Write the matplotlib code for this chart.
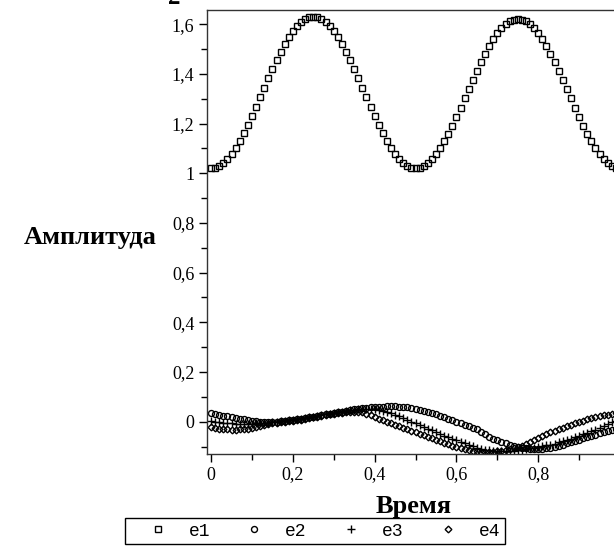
import numpy as np
import matplotlib
matplotlib.use("Agg")
import matplotlib.pyplot as plt
from matplotlib.ticker import MultipleLocator, FuncFormatter

# time grid (step 0.01)
time = np.round(np.arange(100) * 0.01, 2)

e1 = [1.020, 1.022, 1.030, 1.041, 1.058, 1.078, 1.103, 1.131, 1.162, 1.195,
      1.231, 1.268, 1.306, 1.344, 1.382, 1.419, 1.455, 1.488, 1.519, 1.547,
      1.572, 1.592, 1.609, 1.620, 1.628, 1.630,
      1.628, 1.620, 1.609, 1.592, 1.572, 1.547, 1.519, 1.488, 1.455, 1.419,
      1.382, 1.344, 1.306, 1.268, 1.231, 1.195, 1.162, 1.131, 1.103, 1.078,
      1.058, 1.041, 1.030, 1.022, 1.020,
      1.022, 1.029, 1.041, 1.057, 1.077, 1.101, 1.129, 1.159, 1.192, 1.227,
      1.264, 1.301, 1.339, 1.376, 1.413, 1.448, 1.481, 1.511, 1.539, 1.563,
      1.583, 1.599, 1.611, 1.618, 1.620,
      1.618, 1.611, 1.599, 1.583, 1.563, 1.539, 1.511, 1.481, 1.448, 1.413,
      1.376, 1.339, 1.301, 1.264, 1.227, 1.192, 1.159, 1.129, 1.101, 1.077,
      1.057, 1.041, 1.029, 1.022]

e2 = [0.036, 0.032, 0.028, 0.024, 0.021, 0.018, 0.015, 0.012, 0.009, 0.006,
      0.003, 0.001, -0.001,
      -0.002, -0.002, -0.001, 0.000, 0.002, 0.004, 0.006, 0.008, 0.010, 0.012,
      0.014, 0.017,
      0.020, 0.023, 0.026, 0.029, 0.032, 0.035, 0.038, 0.041, 0.044, 0.047,
      0.050, 0.052, 0.054, 0.056, 0.058, 0.059, 0.060, 0.061, 0.062, 0.062,
      0.062, 0.061, 0.060, 0.058, 0.056,
      0.053, 0.049, 0.045, 0.040, 0.035, 0.030, 0.024, 0.018, 0.012, 0.006,
      0.000, -0.006, -0.012, -0.019, -0.025, -0.031, -0.040, -0.050, -0.060, -0.068,
      -0.075, -0.081, -0.087, -0.092, -0.096,
      -0.100, -0.104, -0.107, -0.109, -0.110, -0.110, -0.109, -0.107, -0.104, -0.100,
      -0.096, -0.092, -0.087, -0.082, -0.077, -0.072, -0.067, -0.062, -0.057, -0.052,
      -0.047, -0.043, -0.039, -0.035, -0.031]

e3 = [0.002, 0.000, -0.002, -0.004, -0.006, -0.007, -0.008, -0.009, -0.009, -0.009,
      -0.008, -0.007, -0.006,
      -0.005, -0.004, -0.003, -0.001, 0.001, 0.003, 0.005, 0.007, 0.009, 0.011,
      0.014, 0.017,
      0.020, 0.023, 0.026, 0.029, 0.032, 0.035, 0.038, 0.041, 0.044, 0.046,
      0.048, 0.050, 0.051, 0.052, 0.052, 0.052, 0.049, 0.045, 0.040, 0.034,
      0.028, 0.021, 0.014, 0.007, 0.000,
      -0.007, -0.014, -0.021, -0.028, -0.035, -0.042, -0.049, -0.056, -0.063, -0.069,
      -0.075, -0.081, -0.087, -0.093, -0.099, -0.104, -0.108, -0.112, -0.115, -0.117,
      -0.118, -0.119, -0.119, -0.118, -0.117,
      -0.115, -0.113, -0.110, -0.107, -0.104, -0.101, -0.098, -0.095, -0.092, -0.088,
      -0.083, -0.079, -0.074, -0.069, -0.063, -0.057, -0.051, -0.045, -0.039, -0.033,
      -0.024, -0.017, -0.010, -0.003, 0.003]

e4 = [-0.022, -0.025, -0.028, -0.030, -0.031, -0.032, -0.032, -0.031, -0.030, -0.028,
      -0.025, -0.021, -0.017,
      -0.013, -0.010, -0.007, -0.005, -0.003, -0.001, 0.001, 0.003, 0.005, 0.008,
      0.011, 0.014,
      0.017, 0.020, 0.023, 0.026, 0.029, 0.032, 0.035, 0.037, 0.039, 0.040,
      0.041, 0.041, 0.039, 0.033, 0.026, 0.018, 0.011, 0.005, -0.001, -0.007,
      -0.013, -0.019, -0.025, -0.031, -0.037,
      -0.043, -0.049, -0.055, -0.061, -0.067, -0.073, -0.079, -0.085, -0.091, -0.096,
      -0.101, -0.106, -0.110, -0.114, -0.117, -0.119, -0.120, -0.121, -0.121, -0.120,
      -0.118, -0.116, -0.113, -0.110, -0.106,
      -0.102, -0.097, -0.091, -0.083, -0.074, -0.065, -0.057, -0.050, -0.043, -0.036,
      -0.030, -0.024, -0.018, -0.012, -0.006, -0.001, 0.004, 0.009, 0.013, 0.017,
      0.021, 0.025, 0.028, 0.031, 0.034]

series = [("e1", e1, "s", 4.3), ("e2", e2, "o", 4.3),
          ("e3", e3, "+", 5.5), ("e4", e4, "D", 3.4)]

plt.rcParams["font.family"] = ["Liberation Serif", "DejaVu Serif"]

fig = plt.figure(figsize=(6.14, 5.48), dpi=100)
# axes run past the right edge of the picture, as in the original
ax = fig.add_axes([207 / 614, 94 / 548, 413 / 614, 444 / 548])

for name, vals, mk, ms in series:
    ax.plot(time, vals, linestyle="none", marker=mk, markersize=ms,
            markerfacecolor="none", markeredgecolor="black",
            markeredgewidth=1.0, color="black", label=name)

ax.set_xlim(-0.01, 1.0)
ax.set_ylim(-0.13, 1.657)


def comma_fmt(v, pos):
    if v > 0.95:
        return ""
    s = f"{v:.1f}".rstrip("0").rstrip(".")
    if s in ("-0", ""):
        s = "0"
    return s.replace(".", ",")


def comma_fmt_y(v, pos):
    s = f"{v:.1f}".rstrip("0").rstrip(".")
    if s in ("-0", ""):
        s = "0"
    return s.replace(".", ",")


ax.xaxis.set_major_locator(MultipleLocator(0.2))
ax.xaxis.set_minor_locator(MultipleLocator(0.1))
ax.yaxis.set_major_locator(MultipleLocator(0.2))
ax.yaxis.set_minor_locator(MultipleLocator(0.1))
ax.xaxis.set_major_formatter(FuncFormatter(comma_fmt))
ax.yaxis.set_major_formatter(FuncFormatter(comma_fmt_y))
ax.tick_params(which="major", direction="out", length=6, width=1, labelsize=13, pad=3)
ax.tick_params(which="minor", direction="out", length=4, width=1)
for s in ax.spines.values():
    s.set_linewidth(1.0)
    s.set_color("#333333")

fig.text(157 / 614, 1 - 244 / 548, "Амплитуда", ha="right", va="baseline",
         fontsize=19, fontweight="bold")
fig.text(414 / 614, 1 - 513 / 548, "Время", ha="center", va="baseline",
         fontsize=19, fontweight="bold")
fig.text(174 / 614, 1 - 4 / 548, "2", ha="center", va="baseline",
         fontsize=18, fontweight="bold")

leg = ax.legend(loc="upper left", bbox_to_anchor=(125 / 614, 1 - 518 / 548),
                bbox_transform=fig.transFigure, ncol=4, frameon=True,
                fancybox=False, edgecolor="black", framealpha=1,
                prop={"family": "Liberation Mono", "size": 13},
                handlelength=3.1, handletextpad=0.17, columnspacing=0.9,
                borderpad=0.25, borderaxespad=0, markerscale=1.0)
leg.get_frame().set_linewidth(1.0)

fig.savefig("out.png", dpi=100)
